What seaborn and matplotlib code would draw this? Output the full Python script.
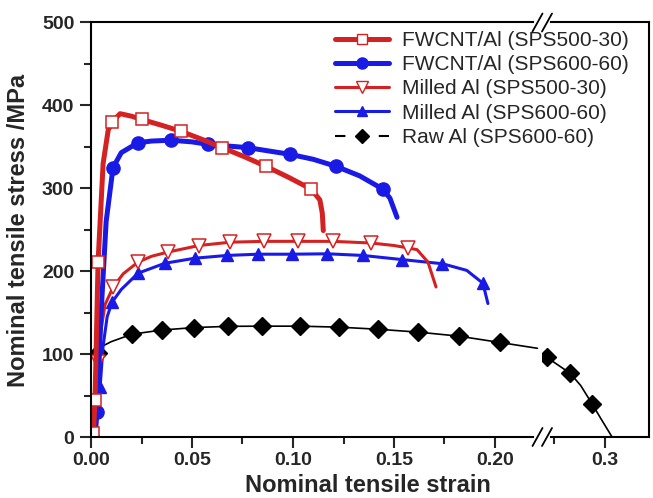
import numpy as np
import pandas as pd
import matplotlib
matplotlib.use("Agg")
import matplotlib.pyplot as plt
import seaborn as sns
from matplotlib.lines import Line2D

sns.set_style("ticks")
plt.rcParams['font.family'] = ['Liberation Sans', 'DejaVu Sans']

# ---------------- data ----------------
labels = ["FWCNT/Al (SPS500-30)", "FWCNT/Al (SPS600-60)", "Milled Al (SPS500-30)",
          "Milled Al (SPS600-60)", "Raw Al (SPS600-60)"]

fw500_strain = [0.0, 0.0012, 0.002, 0.0035, 0.006, 0.0085, 0.0104, 0.0144, 0.02, 0.0252, 0.035,
                0.0446, 0.055, 0.065, 0.076, 0.0866, 0.098, 0.109, 0.1133, 0.1145, 0.115]
fw500_stress = [0, 5, 45, 211, 330, 370, 380, 390, 387, 383, 376,
                368.7, 359, 349, 338, 326.5, 313, 299, 286, 270, 249]
fw500_marks = [1, 2, 3, 6, 9, 11, 13, 15, 17]

fw600_strain = [0.002, 0.003, 0.005, 0.0075, 0.0109, 0.015, 0.0233, 0.03, 0.0396, 0.05, 0.058,
                0.0777, 0.0985, 0.11, 0.1213, 0.133, 0.1445, 0.148, 0.1515]
fw600_stress = [0, 30, 150, 260, 325, 343, 355, 357, 358, 356, 353,
                349, 341, 335, 326.5, 315, 299, 288, 265]
fw600_marks = [1, 4, 6, 8, 10, 11, 12, 14, 16]

ml500_strain = [0.001, 0.002, 0.0035, 0.005, 0.007, 0.011, 0.016, 0.0233, 0.03, 0.038, 0.0535,
                0.069, 0.0857, 0.1025, 0.1198, 0.1386, 0.15, 0.157, 0.1614, 0.1668, 0.1708]
ml500_stress = [0, 40, 90, 130, 160, 181, 197, 211, 218, 223, 231,
                235, 236, 236, 236, 234, 231, 228, 226, 211, 181]
ml500_marks = [2, 5, 7, 9, 10, 11, 12, 13, 14, 15, 17]

ml600_strain = [0.0015, 0.003, 0.0045, 0.006, 0.008, 0.0104, 0.015, 0.0233, 0.0366, 0.0515, 0.0673,
                0.0827, 0.0995, 0.117, 0.1346, 0.154, 0.174, 0.186, 0.194, 0.1965]
ml600_stress = [0, 30, 60, 110, 145, 162.6, 178, 197.6, 209.6, 215.7, 219,
                220.5, 220.5, 221, 219, 214, 209, 201, 185.5, 161]
ml600_marks = [2, 5, 7, 8, 9, 10, 11, 12, 13, 14, 15, 16, 18]

raw_strain_a = [0.0, 0.001, 0.002, 0.0035, 0.006, 0.01, 0.0203, 0.035, 0.051, 0.068, 0.0847,
                0.1035, 0.1228, 0.142, 0.162, 0.182, 0.2025, 0.221]
raw_stress_a = [0, 10, 50, 101, 110, 115, 124, 129, 132, 133.5, 133.7,
                133.7, 132.5, 130, 126.5, 121.7, 114, 107]
raw_marks_a = [0, 3, 6, 7, 8, 9, 10, 11, 12, 13, 14, 15, 16]
raw_strain_b = [0.2712, 0.2827, 0.288, 0.2936, 0.298, 0.3035]
raw_stress_b = [96, 77, 62, 40, 22, 0]
raw_marks_b = [0, 1, 3]

x_major_left = [0.0, 0.05, 0.10, 0.15, 0.20]
x_major_left_labels = ["0.00", "0.05", "0.10", "0.15", "0.20"]
x_major_right = [0.3]
x_major_right_labels = ["0.3"]
y_major = [0, 100, 200, 300, 400, 500]

RED = '#d42222'
BLUE = '#1a1ae6'

# ---------------- figure ----------------
W, H = 653, 498
fig = plt.figure(figsize=(W / 100, H / 100), dpi=100)
L, BRK, R, T, B = 91, 542, 649, 22.5, 437
ax1 = fig.add_axes([L / W, 1 - B / H, (BRK - L) / W, (B - T) / H])
ax2 = fig.add_axes([BRK / W, 1 - B / H, (R - BRK) / W, (B - T) / H])
ax2.patch.set_alpha(0)

scale = 2020.0  # pixels per unit strain
ax1.set_xlim(0.0, (BRK - L) / scale)
x2_left = 0.3 - (605 - BRK) / scale
ax2.set_xlim(x2_left, x2_left + (R - BRK) / scale)
for ax in (ax1, ax2):
    ax.set_ylim(0, 500)


def draw(ax, x, y, marks, color, lw, marker, ms, mfc, mec, mew=1.0):
    df = pd.DataFrame({"strain": x, "stress": y})
    sns.lineplot(data=df, x="strain", y="stress", ax=ax, sort=False, estimator=None,
                 color=color, lw=lw, marker=marker, markevery=marks, ms=ms,
                 mfc=mfc, mec=mec, mew=mew, legend=False)


for ax in (ax1, ax2):
    draw(ax, raw_strain_a, raw_stress_a, raw_marks_a, 'black', 1.2, 'D', 9, 'black', 'black')
    draw(ax, raw_strain_b, raw_stress_b, raw_marks_b, 'black', 1.2, 'D', 9, 'black', 'black')
    draw(ax, ml600_strain, ml600_stress, ml600_marks, BLUE, 2.2, '^', 9, BLUE, BLUE)
    draw(ax, ml500_strain, ml500_stress, ml500_marks, RED, 2.2, 'v', 10, 'white', RED, 1.1)
    draw(ax, fw600_strain, fw600_stress, fw600_marks, BLUE, 3.6, 'o', 9.5, BLUE, BLUE)
    draw(ax, fw500_strain, fw500_stress, fw500_marks, RED, 3.6, 's', 8.5, 'white', RED, 1.1)
    ax.set_xlabel("")
    ax.set_ylabel("")
    for s in ax.spines.values():
        s.set_linewidth(1.5)
        s.set_color('black')

ax1.spines['right'].set_visible(False)
ax2.spines['left'].set_visible(False)

ax1.set_xticks(x_major_left, x_major_left_labels, fontsize=14, fontweight='bold')
ax1.set_xticks([0.025, 0.075, 0.125, 0.175], minor=True)
ax1.set_yticks(y_major, [str(v) for v in y_major], fontsize=14, fontweight='bold')
ax1.set_yticks([50, 150, 250, 350, 450], minor=True)
ax2.set_xticks(x_major_right, x_major_right_labels, fontsize=14, fontweight='bold')
ax2.set_xticks([0.275], minor=True)
ax2.set_yticks([])
for ax in (ax1, ax2):
    ax.tick_params(which='major', length=8, width=1.5, direction='out', pad=3)
    ax.tick_params(which='minor', length=5, width=1.5, direction='out')
    ax.tick_params(axis='y', pad=4)
ax2.tick_params(axis='y', which='both', left=False, labelleft=False)

# break marks
def px(x, y):
    return (x / W, 1 - y / H)

for yc in (T, B):
    fig.add_artist(Line2D([px(536, 0)[0], px(548, 0)[0]], [1 - yc / H] * 2,
                          color='white', lw=3, transform=fig.transFigure, zorder=10))
    for xc in (537.5, 547):
        fig.add_artist(Line2D([px(xc - 5, 0)[0], px(xc + 5, 0)[0]],
                              [1 - (yc + 9) / H, 1 - (yc - 9) / H],
                              color='black', lw=1.3, transform=fig.transFigure, zorder=11))

# legend
handles = [
    Line2D([], [], color=RED, lw=3.6, marker='s', ms=6.5, mfc='white', mec=RED, mew=1.0),
    Line2D([], [], color=BLUE, lw=3.6, marker='o', ms=8, mfc=BLUE, mec=BLUE),
    Line2D([], [], color=RED, lw=2.2, marker='v', ms=8, mfc='white', mec=RED, mew=1.0),
    Line2D([], [], color=BLUE, lw=2.2, marker='^', ms=7.5, mfc=BLUE, mec=BLUE),
    Line2D([], [], color='black', lw=1.5, ls=(0, (5, 5.5)), marker='D', ms=7, mfc='black', mec='black'),
]
leg = fig.legend(handles, labels, loc='upper left', bbox_to_anchor=px(335, 31),
                 frameon=False, fontsize=15, handlelength=2.6, handletextpad=0.6,
                 labelspacing=0.25, borderpad=0, borderaxespad=0)

fig.text(368 / W, 1 - 492 / H, "Nominal tensile strain", ha='center', va='baseline',
         fontsize=17, fontweight='bold')
fig.text(19 / W, 1 - 230 / H, "Nominal tensile stress /MPa", rotation=90, ha='center',
         va='center', fontsize=17, fontweight='bold')

fig.savefig("out.png", dpi=100)
